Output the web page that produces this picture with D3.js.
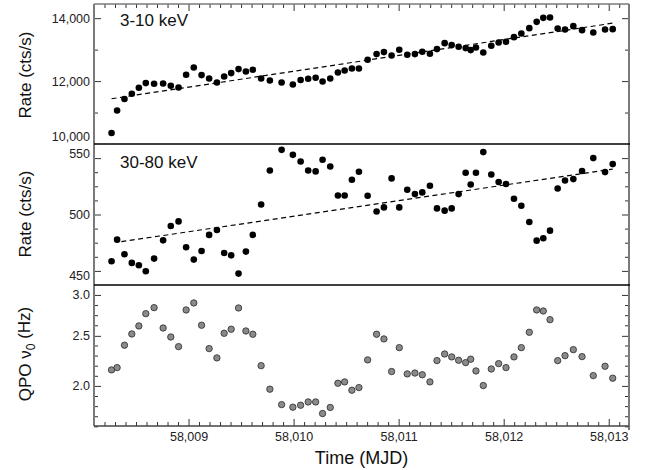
<!DOCTYPE html>
<html><head><meta charset="utf-8">
<script src="https://cdn.jsdelivr.net/npm/d3@7/dist/d3.min.js"></script>
<style>
body{margin:0;background:#fff;}
svg{display:block;font-family:"Liberation Sans",Arial,Helvetica,sans-serif;}
</style></head>
<body><svg id="c" width="648" height="470"></svg>
<script>
// ---- data ----
const times = [58008.267,58008.320,58008.390,58008.460,58008.527,58008.593,58008.672,58008.758,58008.831,58008.905,
58008.977,58009.050,58009.124,58009.196,58009.270,58009.339,58009.406,58009.476,58009.546,58009.612,
58009.691,58009.774,58009.886,58009.993,58010.067,58010.139,58010.210,58010.276,58010.349,58010.422,
58010.486,58010.555,58010.622,58010.705,58010.790,58010.860,58010.933,58011.006,58011.082,58011.155,
58011.225,58011.298,58011.365,58011.438,58011.505,58011.571,58011.638,58011.686,58011.736,58011.806,
58011.882,58011.952,58012.022,58012.098,58012.168,58012.244,58012.314,58012.377,58012.441,58012.514,
58012.584,58012.663,58012.746,58012.853,58012.965,58013.038];
const softRate = [10349,11067,11429,11597,11787,11936,11914,11924,11850,11797,
12200,12432,12190,12083,11956,12146,12254,12381,12305,12359,
12083,12019,11956,11892,12032,12073,12105,11987,12083,12273,
12337,12400,12400,12676,12857,12921,12813,12994,12835,12857,
12930,12867,13016,13206,13143,13089,13048,12984,13067,12908,
13121,13225,13248,13397,13511,13683,13883,14010,14020,13670,
13638,13746,13619,13543,13638,13651];
const hardRate = [458.5,477.7,464.7,457.1,455.0,449.7,460.9,477.1,489.8,493.9,
470.9,460.0,467.7,481.9,486.3,465.9,463.8,447.6,467.1,481.9,
508.9,539.0,557.3,552.9,547.0,539.0,538.2,548.5,542.6,516.9,
516.9,530.8,537.9,516.6,502.7,506.3,532.0,506.3,521.9,518.1,
519.6,525.5,505.4,503.4,505.4,518.1,537.0,526.6,537.0,555.3,
535.5,528.8,527.0,514.0,507.8,493.4,476.8,478.9,485.7,523.1,
530.2,531.4,538.5,550.0,537.6,544.7];
const qpoFreq = [2.148,2.170,2.398,2.521,2.613,2.760,2.835,2.589,2.487,2.383,
2.806,2.895,2.621,2.362,2.266,2.529,2.575,2.831,2.555,2.518,
2.189,1.971,1.840,1.819,1.835,1.862,1.862,1.768,1.817,2.024,
2.036,1.962,1.985,2.246,2.518,2.466,2.132,2.372,2.110,2.118,
2.102,2.036,2.239,2.306,2.276,2.242,2.219,2.253,2.138,2.003,
2.157,2.209,2.170,2.276,2.372,2.540,2.806,2.793,2.687,2.239,
2.289,2.351,2.279,2.094,2.183,2.070];
// linear trend lines (end points)
const softFitT = [58008.267, 58013.038];
const softFitV = [11438, 13841];
const hardFitT = [58008.36, 58013.038];
const hardFitV = [475.9, 540.3];
// axis tick labels
const xMajor = [58009,58010,58011,58012,58013];
const softTicksMajor = [10000,12000,14000];
const softTicksMinor = [11000,13000];
const hardTicksMajor = [450,500,550];
const qpoTicksMajor = [2.0,2.5,3.0];

// ---- layout ----
const W = 648, H = 470;
const L = 94, R = 629;
const panels = [{top:4,bot:144},{top:144,bot:285},{top:285,bot:426}];
const svg = d3.select("#c");
const frameGray = "#7a7a7a";

const x = d3.scaleLinear().domain([58008.1, 58013.193]).range([L, R]);
const y1 = d3.scaleLinear().domain([10000, 14450]).range([panels[0].bot, panels[0].top]);
const y2 = d3.scaleLinear().domain([437.5, 562.5]).range([panels[1].bot, panels[1].top]);
const y3 = d3.scaleLog().domain([1.6727, 3.136]).range([panels[2].bot, panels[2].top]);

const xMinor = d3.range(58008.2, 58013.19, 0.1).map(v=>+v.toFixed(1)).filter(v=>Math.abs(v-Math.round(v))>1e-6);

function styleAxis(g, color){
  g.select(".domain").remove();
  g.selectAll(".tick line").attr("stroke", color||"#333").attr("stroke-width",1);
  g.selectAll(".tick text").attr("fill","#222").style("font-size","12.5px")
   .style("font-family",'"Liberation Sans",Arial,Helvetica,sans-serif');
}

// x ticks: bottom of bottom panel (pointing up), top of top panel (pointing down)
svg.append("g").attr("transform",`translate(0,${panels[2].bot})`)
  .call(d3.axisBottom(x).tickValues(xMinor).tickSize(-4).tickFormat("")).call(g=>styleAxis(g));
svg.append("g").attr("transform",`translate(0,${panels[2].bot})`)
  .call(d3.axisBottom(x).tickValues(xMajor).tickSize(-7).tickPadding(6).tickFormat(d3.format(","))).call(g=>styleAxis(g));
svg.append("g").attr("transform",`translate(0,${panels[0].top})`)
  .call(d3.axisTop(x).tickValues(xMinor).tickSize(-4).tickFormat("")).call(g=>styleAxis(g));
svg.append("g").attr("transform",`translate(0,${panels[0].top})`)
  .call(d3.axisTop(x).tickValues(xMajor).tickSize(-7).tickFormat("")).call(g=>styleAxis(g));

// y axes helpers
function yAxes(scale, major, minor, fmt, labelShift){
  svg.append("g").attr("transform",`translate(${L},0)`)
    .call(d3.axisLeft(scale).tickValues(minor).tickSize(-4).tickFormat("")).call(g=>styleAxis(g));
  svg.append("g").attr("transform",`translate(${L},0)`)
    .call(d3.axisLeft(scale).tickValues(major).tickSize(-7).tickPadding(4).tickFormat(fmt))
    .call(g=>styleAxis(g))
    .call(g=>g.selectAll(".tick text").attr("dy", d=> (0.32 + (labelShift[d]||0)/12.5)+"em"));
  svg.append("g").attr("transform",`translate(${R},0)`)
    .call(d3.axisRight(scale).tickValues(minor).tickSize(-4).tickFormat("")).call(g=>styleAxis(g));
  svg.append("g").attr("transform",`translate(${R},0)`)
    .call(d3.axisRight(scale).tickValues(major).tickSize(-7).tickFormat("")).call(g=>styleAxis(g));
}
yAxes(y1, softTicksMajor.filter(v=>v!==10000), softTicksMinor, d3.format(","), {});
// 10,000 label sits just above the panel bottom
svg.append("g").attr("transform",`translate(${L},0)`)
  .call(d3.axisLeft(y1).tickValues([10000]).tickSize(0).tickPadding(4).tickFormat(d3.format(",")))
  .call(g=>styleAxis(g)).call(g=>g.selectAll(".tick text").attr("dy","-0.3em"));

const hardMinor = d3.range(450, 551, 12.5).filter(v=>!hardTicksMajor.includes(v));
yAxes(y2, hardTicksMajor, hardMinor, d3.format("d"), {550:-5, 450:5});

const ratio = Math.pow(1.5, 1/9);
const qpoMinor = d3.range(1,14).map(k=>3*Math.pow(ratio,-k)).filter((v,i)=>i!==3 && i!==8);
yAxes(y3, qpoTicksMajor, qpoMinor, d3.format(".1f"), {});

// frame
const frame = svg.append("g");
frame.append("line").attr("x1",L).attr("x2",L).attr("y1",panels[0].top).attr("y2",panels[2].bot)
  .attr("stroke",frameGray).attr("stroke-width",2);
frame.append("line").attr("x1",R).attr("x2",R).attr("y1",panels[0].top).attr("y2",panels[2].bot+4)
  .attr("stroke",frameGray).attr("stroke-width",2);
frame.append("line").attr("x1",L).attr("x2",R).attr("y1",panels[0].top).attr("y2",panels[0].top)
  .attr("stroke",frameGray).attr("stroke-width",1.5);
frame.append("line").attr("x1",L).attr("x2",R).attr("y1",panels[2].bot).attr("y2",panels[2].bot)
  .attr("stroke","#444").attr("stroke-width",1.5);
[panels[0].bot, panels[1].bot].forEach(yy=>{
  frame.append("line").attr("x1",L).attr("x2",R+1).attr("y1",yy).attr("y2",yy)
    .attr("stroke","#000").attr("stroke-width",1.5);
});

// trend lines
const line = (ys)=>d3.line().x(d=>x(d[0])).y(d=>ys(d[1]));
svg.append("path").datum(d3.zip(softFitT, softFitV)).attr("d", line(y1))
  .attr("fill","none").attr("stroke","#000").attr("stroke-width",1.2).attr("stroke-dasharray","5,3.5");
svg.append("path").datum(d3.zip(hardFitT, hardFitV)).attr("d", line(y2))
  .attr("fill","none").attr("stroke","#000").attr("stroke-width",1.2).attr("stroke-dasharray","5,3.5");

// points
svg.append("g").selectAll("circle").data(d3.zip(times, softRate)).join("circle")
  .attr("cx",d=>x(d[0])).attr("cy",d=>y1(d[1])).attr("r",3.3).attr("fill","#000");
svg.append("g").selectAll("circle").data(d3.zip(times, hardRate)).join("circle")
  .attr("cx",d=>x(d[0])).attr("cy",d=>y2(d[1])).attr("r",3.3).attr("fill","#000");
svg.append("g").selectAll("circle").data(d3.zip(times, qpoFreq)).join("circle")
  .attr("cx",d=>x(d[0])).attr("cy",d=>y3(d[1])).attr("r",3.2).attr("fill","#8a8a8a")
  .attr("stroke","#2a2a2a").attr("stroke-width",0.8);

// panel labels
svg.append("text").attr("x",120).attr("y",26).text("3-10 keV").style("font-size","17px").attr("fill","#111");
svg.append("text").attr("x",120).attr("y",168).text("30-80 keV").style("font-size","17px").attr("fill","#111");

// axis titles
function ytitle(cy, build){
  const t = svg.append("text").attr("transform",`translate(31,${cy}) rotate(-90)`)
    .attr("text-anchor","middle").style("font-size","17px").attr("fill","#111");
  build(t);
}
ytitle(75, t=>t.text("Rate (cts/s)"));
ytitle(214, t=>t.text("Rate (cts/s)"));
ytitle(354, t=>{ t.append("tspan").text("QPO ν");
  t.append("tspan").attr("dy","0.3em").style("font-size","12px").text("0");
  t.append("tspan").attr("dy","-0.3em").text(" (Hz)"); });
svg.append("text").attr("x",(L+R)/2).attr("y",464).attr("text-anchor","middle")
  .style("font-size","18px").attr("fill","#111").text("Time (MJD)");
</script></body></html>
